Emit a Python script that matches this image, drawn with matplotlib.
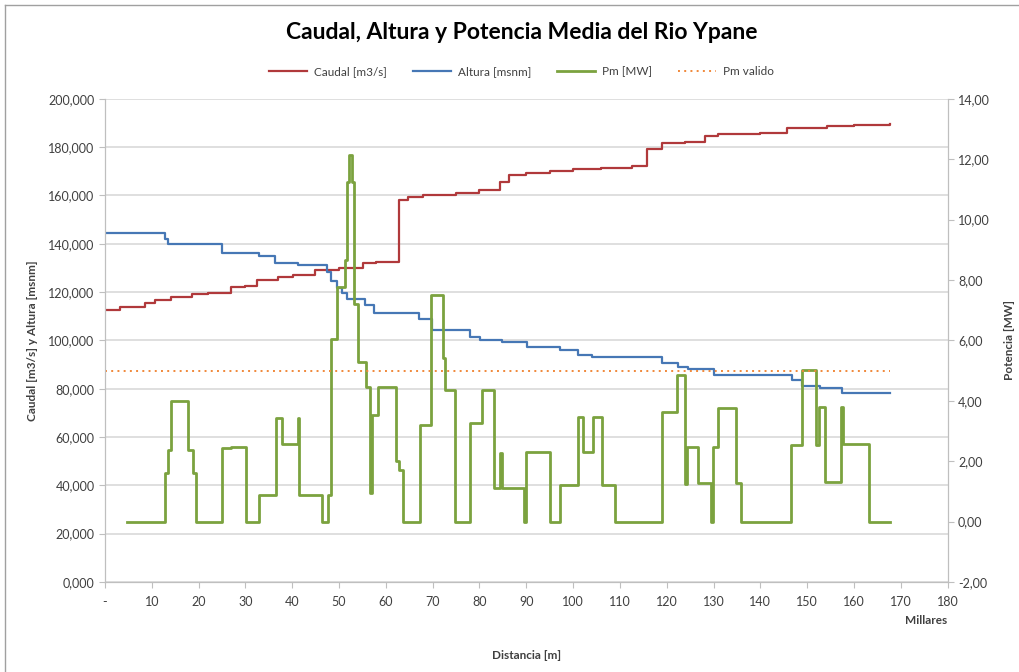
import matplotlib
matplotlib.use("Agg")
import matplotlib.pyplot as plt
from matplotlib.ticker import FuncFormatter, MultipleLocator
from matplotlib.lines import Line2D

plt.rcParams['font.family'] = ['Lato', 'DejaVu Sans']

# distancia en miles de metros (Millares)
caudal_x = [0, 3.2, 8.5, 10.7, 14.2, 18.5, 22, 27, 30, 32.4, 37, 40.2, 44.9, 50, 55.2, 58,
            62.7, 64.8, 68, 75, 80, 84.4, 86.2, 90, 95, 100, 106, 112.5, 115.7, 119, 124,
            128.2, 131, 140, 145.7, 154.2, 160, 167.7]
caudal = [112.6, 114, 115.4, 116.8, 118.1, 119.1, 119.8, 121.9, 122.5, 125, 126.2, 127.1,
          129.2, 130, 132, 132.3, 158.2, 159.5, 160.3, 161.2, 162.3, 165.5, 168.5, 169.3,
          170.2, 170.8, 171.5, 172, 179.4, 181.7, 182.3, 184.4, 185.4, 185.8, 187.8, 188.8,
          189.2, 189.6]

altura_x = [0, 12.8, 13.5, 25.1, 32.8, 36.3, 41.3, 47.5, 48.2, 49.5, 50.7, 51.8, 55.5, 57.5,
            67, 69.8, 78, 80.1, 84.8, 90.1, 97.2, 101.1, 104, 119, 122.5, 124.6, 130, 146.7,
            148.9, 152.8, 157.4, 167.7]
altura = [144.4, 142, 140, 136.1, 135, 132, 131.3, 128.5, 124.5, 121.5, 119.5, 117, 114.5,
          111.3, 109, 104.3, 101.6, 100.2, 99.5, 97.4, 96, 94, 93.3, 90.5, 89, 88.2, 85.7,
          83.4, 81.2, 80.2, 78.4, 78.4]

pm_x = [4.8, 12.8, 13.5, 14.2, 17.8, 18.9, 19.4, 25.1, 27.0, 30.2, 32.8, 36.5, 37.8, 41.2,
        41.5, 46.3, 47.7, 48.3, 49.5, 51.3, 51.8, 52.1, 52.8, 53.3, 54.1, 55.8, 56.6, 57.0,
        58.4, 62.2, 62.8, 63.6, 67.3, 69.7, 72.3, 72.6, 74.8, 78.0, 80.5, 83.0, 84.4, 84.8,
        89.5, 89.9, 95.1, 97.2, 101.1, 102.2, 104.3, 106.1, 109.0, 119.0, 122.2, 124.0,
        124.3, 126.7, 129.5, 129.8, 131.0, 134.8, 135.9, 146.6, 148.8, 151.9, 152.6, 153.8,
        157.3, 157.6, 163.2, 167.7]
pm = [0, 1.6, 2.37, 4.0, 2.37, 1.6, 0, 2.43, 2.48, 0, 0.88, 3.42, 2.56, 3.42, 0.88, 0, 0.88,
      6.05, 7.78, 8.67, 11.26, 12.14, 11.26, 7.2, 5.3, 4.47, 0.95, 3.53, 4.47, 2.0, 1.7, 0,
      3.2, 7.5, 5.4, 4.36, 0, 3.26, 4.36, 1.1, 2.26, 1.1, 0, 2.3, 0, 1.2, 3.47, 2.3, 3.47,
      1.2, 0, 3.64, 4.86, 1.25, 2.48, 1.27, 0, 2.48, 3.75, 1.27, 0, 2.54, 5.02, 2.54, 3.79,
      1.32, 3.8, 2.56, 0, 0]

pm_valido_x = [0, 167.7]
pm_valido = [5.0, 5.0]

c_red = '#B0393B'
c_blue = '#4677B5'
c_green = '#7BA23F'
c_orange = '#F0883A'
c_grid = '#D9D9D9'
c_axis = '#BFBFBF'
c_text = '#404040'

fig = plt.figure(figsize=(10.19, 6.72), dpi=100)
ax = fig.add_axes([0.103, 0.134, 0.827, 0.719])
ax2 = ax.twinx()

l1, = ax.plot(caudal_x, caudal, drawstyle='steps-post', color=c_red, lw=1.6, label='Caudal [m3/s]')
l2, = ax.plot(altura_x, altura, drawstyle='steps-post', color=c_blue, lw=1.6, label='Altura [msnm]')
l3, = ax2.plot(pm_x, pm, drawstyle='steps-post', color=c_green, lw=2.0, label='Pm [MW]')
l4, = ax2.plot(pm_valido_x, pm_valido, color=c_orange, lw=1.4, ls=(0, (1, 2.2)), label='Pm valido')

ax.set_xlim(0, 180)
ax.set_ylim(0, 200)
ax2.set_ylim(-2, 14)
ax.xaxis.set_major_locator(MultipleLocator(10))
ax.yaxis.set_major_locator(MultipleLocator(20))
ax2.yaxis.set_major_locator(MultipleLocator(2))

ax.xaxis.set_major_formatter(FuncFormatter(lambda v, _: '-' if v == 0 else f'{v:.0f}'))
ax.yaxis.set_major_formatter(FuncFormatter(lambda v, _: f'{v:.3f}'.replace('.', ',')))
ax2.yaxis.set_major_formatter(FuncFormatter(lambda v, _: f'{v:.2f}'.replace('.', ',')))

ax.grid(axis='y', color=c_grid, lw=1.2)
ax.set_axisbelow(True)
for a in (ax, ax2):
    for s in a.spines.values():
        s.set_color(c_axis)
    a.spines['top'].set_visible(False)
    a.tick_params(colors=c_axis, labelcolor=c_text, labelsize=9, length=4)
ax.tick_params(axis='x', pad=6)

ax.set_xlabel('Distancia [m]', fontsize=8.5, fontweight='bold', color=c_text, labelpad=30)
ax.set_ylabel('Caudal [m3/s] y Altura [msnm]', fontsize=8.5, fontweight='bold', color=c_text, labelpad=7)
ax2.set_ylabel('Potencia [MW]', fontsize=8.5, fontweight='bold', color=c_text, labelpad=10)
fig.text(0.930, 0.077, 'Millares', fontsize=8.5, fontweight='bold', color=c_text, ha='right', va='center')

fig.text(0.512, 0.951, 'Caudal, Altura y Potencia Media del Rio Ypane', fontsize=16.5,
         fontweight='bold', color='black', ha='center', va='center')
fig.legend(handles=[l1, l2, l3, l4], loc='center', bbox_to_anchor=(0.512, 0.894), ncol=4,
           frameon=False, fontsize=8.5, handlelength=3.2, columnspacing=2.2, handletextpad=0.6,
           labelcolor=c_text)

# borde del grafico
fig.add_artist(Line2D([0.005, 0.005], [0.0, 0.993], color='#A0A0A0', lw=1, transform=fig.transFigure))
fig.add_artist(Line2D([0.005, 1.0], [0.993, 0.993], color='#A0A0A0', lw=1, transform=fig.transFigure))

fig.savefig('out.png', dpi=100)
